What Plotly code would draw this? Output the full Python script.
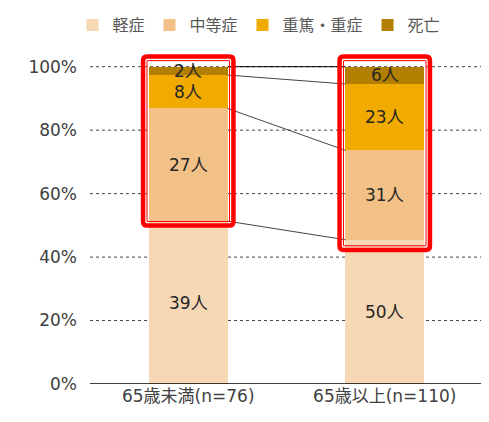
import plotly.graph_objects as go

categories = ["65歳未満(n=76)", "65歳以上(n=110)"]
series_names = ["軽症", "中等症", "重篤・重症", "死亡"]
counts = {
    "軽症": [39, 50],
    "中等症": [27, 31],
    "重篤・重症": [8, 23],
    "死亡": [2, 6],
}
totals = [76, 110]
colors = {
    "軽症": "#F7D8B4",
    "中等症": "#F2C187",
    "重篤・重症": "#F0AA00",
    "死亡": "#B27F00",
}
y_ticks = [0, 20, 40, 60, 80, 100]
y_ticklabels = ["0%", "20%", "40%", "60%", "80%", "100%"]

FONT = "DejaVu Sans, Noto Sans CJK JP"
BAR_W = 0.4
Y_TOP = 104
xs = list(range(len(categories)))

fig = go.Figure()
pct = {s: [c / t * 100 for c, t in zip(counts[s], totals)] for s in series_names}

for s in series_names:
    fig.add_trace(go.Bar(
        x=xs, y=pct[s], name=s, width=BAR_W,
        marker=dict(color=colors[s], line=dict(width=0)),
        hoverinfo="skip",
    ))

# labels at segment centres
cum = [0.0] * len(xs)
bounds = []
for s in series_names:
    for i in xs:
        fig.add_annotation(x=i, y=cum[i] + pct[s][i] / 2, text=f"{counts[s][i]}人",
                           showarrow=False, font=dict(size=17, color="#262626", family=FONT))
    cum = [cum[i] + pct[s][i] for i in xs]
    bounds.append(list(cum))

# dashed gridlines
for t in y_ticks[1:]:
    fig.add_shape(type="line", xref="paper", x0=0, x1=1, yref="y", y0=t, y1=t,
                  line=dict(color="#444", width=1, dash="3px,3px"), layer="below")

# connector lines between cumulative boundaries
for b in bounds:
    fig.add_shape(type="line", x0=0 + BAR_W / 2, x1=1 - BAR_W / 2, y0=b[0], y1=b[1],
                  xref="x", yref="y", line=dict(color="#444" if b[0] < 99.9 else "#000", width=1),
                  layer="above")

# red highlight boxes around non-mild segments
def rrect(x0, x1, y0, y1, rx, ry):
    return (f"M {x0+rx},{y0} L {x1-rx},{y0} Q {x1},{y0} {x1},{y0+ry} "
            f"L {x1},{y1-ry} Q {x1},{y1} {x1-rx},{y1} L {x0+rx},{y1} "
            f"Q {x0},{y1} {x0},{y1-ry} L {x0},{y0+ry} Q {x0},{y0} {x0+rx},{y0} Z")

pad_x = 0.03
pad_top = 3.2
pad_bot = [1.4, 3.2]
mild_top = bounds[0]
for i in xs:
    x0 = i - BAR_W / 2 - pad_x
    x1 = i + BAR_W / 2 + pad_x
    y0 = mild_top[i] - pad_bot[i]
    y1 = 100 + pad_top
    fig.add_shape(type="path", path=rrect(x0, x1, y0, y1, 0.02, 1.3),
                  line=dict(color="#FF0000", width=4.5), layer="above")
    fig.add_shape(type="path", path=rrect(x0 + 0.02, x1 - 0.02, y0 + 1.3, y1 - 1.3, 0.001, 0.05),
                  line=dict(color="#FF0000", width=1), layer="above")

fig.update_layout(
    barmode="stack",
    width=489, height=422,
    margin=dict(l=82, r=14, t=46, b=46, autoexpand=False),
    paper_bgcolor="white", plot_bgcolor="white",
    font=dict(family=FONT, color="#404040", size=17),
    showlegend=True,
    legend=dict(orientation="h", x=0.43, xanchor="center", yref="container", y=1.0,
                yanchor="top", font=dict(size=16, color="#595959"),
                itemwidth=30, traceorder="normal", tracegroupgap=0),
    xaxis=dict(tickmode="array", tickvals=xs, ticktext=categories, range=[-0.5, 1.5],
               showgrid=False, zeroline=False, showline=False, ticks="", automargin=False,
               tickfont=dict(size=17, color="#404040")),
    yaxis=dict(range=[0, Y_TOP], tickmode="array", tickvals=y_ticks, ticktext=y_ticklabels,
               showgrid=False, zeroline=False, showline=False, ticks="", automargin=False,
               ticklabelstandoff=12,
               tickfont=dict(size=17, color="#404040")),
)
# solid baseline at 0%
fig.add_shape(type="line", xref="paper", x0=0, x1=1, yref="y", y0=0, y1=0,
              line=dict(color="#000", width=1.5), layer="above")

fig.write_html("out.html")
